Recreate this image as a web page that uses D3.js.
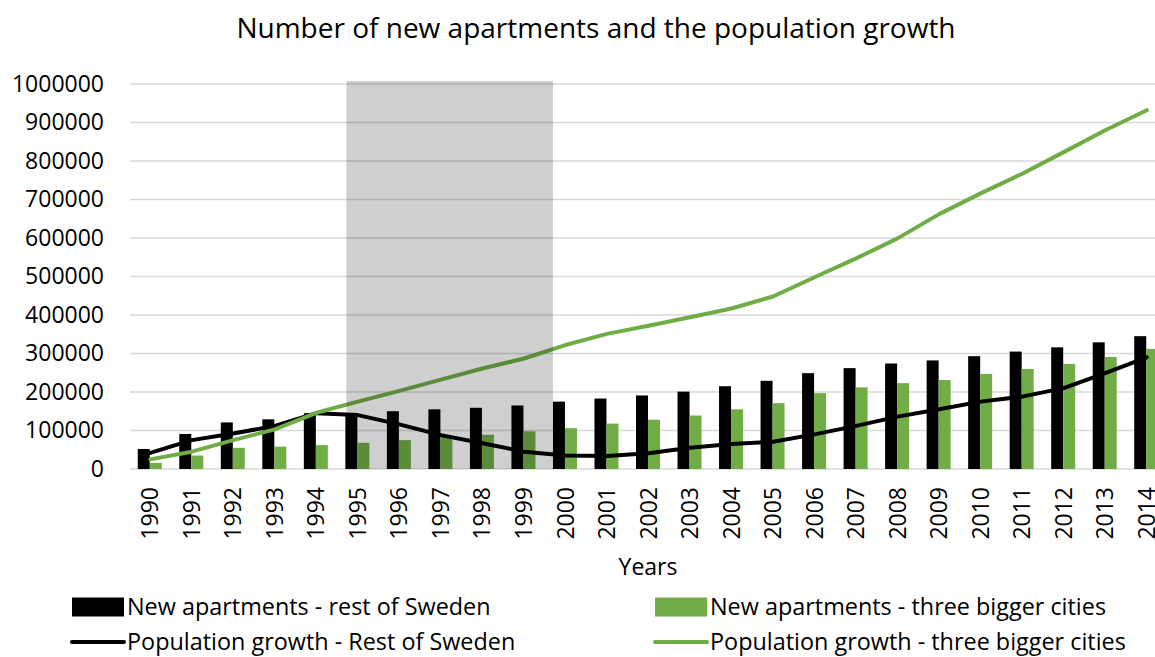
<!DOCTYPE html>
<html><head><meta charset="utf-8">
<script src="https://cdn.jsdelivr.net/npm/d3@7"></script>
<style>
html,body{margin:0;padding:0;background:#fff;}
svg{display:block;font-family:"Open Sans",sans-serif;}
</style></head>
<body><svg id="c" width="1155" height="657"></svg>
<script>
const years = ["1990","1991","1992","1993","1994","1995","1996","1997","1998","1999","2000","2001","2002","2003","2004","2005","2006","2007","2008","2009","2010","2011","2012","2013","2014"];
const aptRest = [52000,91000,121000,129000,145000,142000,150000,155000,159000,165000,175000,183000,191000,201000,215000,229000,249000,262000,274000,282000,293000,305000,316000,329000,345000];
const aptCities = [16000,35000,55000,58000,62000,68000,75000,84000,89000,98000,106000,118000,128000,139000,155000,171000,197000,212000,223000,231000,247000,260000,273000,291000,312000];
const popRest = [42000,75000,92000,112000,145000,140000,116000,88000,67000,45000,35000,34000,41000,55000,65000,71000,90000,112000,136000,155000,175000,188000,210000,249000,290000];
const popCities = [25000,45000,75000,103000,146000,175000,203000,232000,261000,287000,322000,351000,372000,394000,417000,448000,498000,547000,599000,662000,716000,767000,823000,880000,932000];
const yTicks = [0,100000,200000,300000,400000,500000,600000,700000,800000,900000,1000000];
const shadeYears = ["1995","2000"];
const title = "Number of new apartments and the population growth";
const xTitle = "Years";
const legendItems = [
  {label:"New apartments - rest of Sweden", type:"bar", color:"#000000"},
  {label:"New apartments - three bigger cities", type:"bar", color:"#70ad47"},
  {label:"Population growth - Rest of Sweden", type:"line", color:"#000000"},
  {label:"Population growth - three bigger cities", type:"line", color:"#70ad47"}
];

const svg = d3.select("#c");
const x = d3.scaleBand().domain(years).range([129.5, 1167.5]).padding(0);
const y = d3.scaleLinear().domain([0, 1000000]).range([469, 84]);
const cx = d => x(d) + x.bandwidth()/2;
const bw = 12;

// gridlines
svg.append("g").selectAll("line").data(yTicks).join("line")
  .attr("x1", 130).attr("x2", 1169)
  .attr("y1", d => y(d)).attr("y2", d => y(d))
  .attr("stroke", "#d9d9d9").attr("stroke-width", 1.5);

// y axis labels
const yAxis = d3.axisLeft(y).tickValues(yTicks).tickFormat(d3.format("d")).tickSize(0).tickPadding(26);
const ya = svg.append("g").attr("transform", "translate(130,0)").call(yAxis);
ya.select(".domain").remove();
ya.selectAll("text").attr("font-family", "Open Sans").attr("font-size", 23).attr("fill", "#000");

// bars
svg.append("g").selectAll("rect").data(years).join("rect")
  .attr("x", d => cx(d) - bw - 0.5).attr("width", bw)
  .attr("y", (d,i) => y(aptRest[i])).attr("height", (d,i) => y(0) - y(aptRest[i]))
  .attr("fill", "#000");
svg.append("g").selectAll("rect").data(years).join("rect")
  .attr("x", d => cx(d) - 0.5).attr("width", bw)
  .attr("y", (d,i) => y(aptCities[i])).attr("height", (d,i) => y(0) - y(aptCities[i]))
  .attr("fill", "#70ad47");

// lines
const line = d3.line().x((d,i) => cx(years[i])).y(d => y(d));
svg.append("path").datum(popRest).attr("d", line)
  .attr("fill", "none").attr("stroke", "#000").attr("stroke-width", 4).attr("stroke-linejoin", "round").attr("stroke-linecap", "round");
svg.append("path").datum(popCities).attr("d", line)
  .attr("fill", "none").attr("stroke", "#70ad47").attr("stroke-width", 4).attr("stroke-linejoin", "round").attr("stroke-linecap", "round");

// shaded period overlay
const sx0 = cx(shadeYears[0]) - bw - 0.5 + 1;
const sx1 = cx(shadeYears[1]) - bw - 0.5;
svg.append("rect")
  .attr("x", sx0).attr("width", sx1 - sx0)
  .attr("y", y(1008000)).attr("height", y(0) - y(1008000))
  .attr("fill", "#000").attr("fill-opacity", 0.19);

// x axis labels
const xAxis = d3.axisBottom(x).tickSize(0).tickPadding(0);
const xa = svg.append("g").attr("transform", "translate(0,469)").call(xAxis);
xa.select(".domain").remove();
xa.selectAll("text")
  .attr("font-family", "Open Sans").attr("font-size", 23).attr("fill", "#000")
  .attr("transform", "rotate(-90)")
  .attr("text-anchor", "end").attr("x", -18).attr("y", 0).attr("dy", "0.35em");

// titles
svg.append("text").attr("x", 596).attr("y", 28).attr("dy", "0.35em")
  .attr("text-anchor", "middle").attr("font-size", 28).attr("fill", "#000").text(title);
svg.append("text").attr("x", 648).attr("y", 567).attr("dy", "0.35em")
  .attr("text-anchor", "middle").attr("font-size", 23).attr("fill", "#000").text(xTitle);

// legend
const lgX = [72, 655];
const lgY = [607, 642];
const lg = svg.append("g").selectAll("g").data(legendItems).join("g")
  .attr("transform", (d,i) => `translate(${lgX[i%2]},${lgY[Math.floor(i/2)]})`);
lg.filter(d => d.type === "bar").append("rect")
  .attr("x", 0).attr("y", -9.5).attr("width", 52).attr("height", 19).attr("fill", d => d.color);
lg.filter(d => d.type === "line").append("line")
  .attr("x1", 0).attr("x2", 52).attr("y1", 0).attr("y2", 0)
  .attr("stroke", d => d.color).attr("stroke-width", 4).attr("stroke-linecap", "round");
lg.append("text").attr("x", 55).attr("y", 0).attr("dy", "0.35em")
  .attr("font-size", 23.4).attr("fill", "#000").text(d => d.label);
</script>
</body></html>
